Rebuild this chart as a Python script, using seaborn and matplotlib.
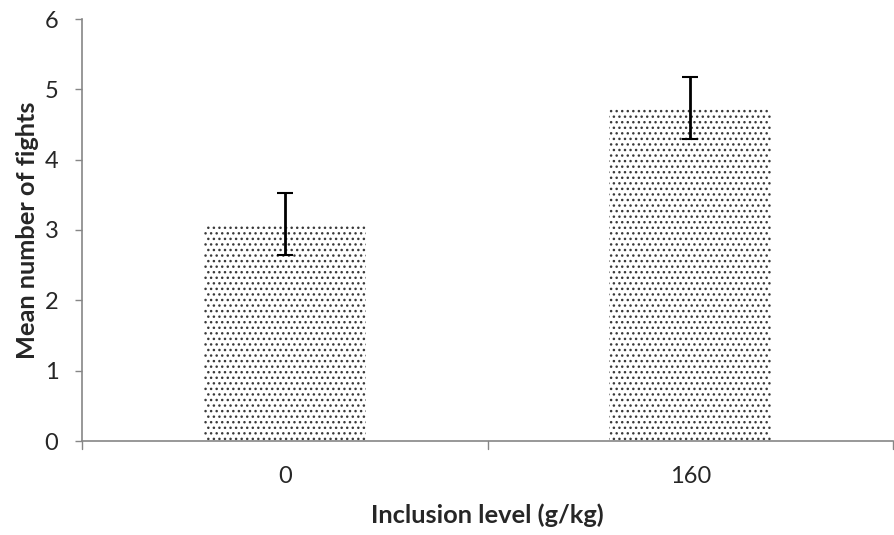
import matplotlib
matplotlib.use("Agg")
import matplotlib.pyplot as plt
import seaborn as sns
import numpy as np

categories = ["0", "160"]
means = [3.09, 4.74]
errors = [0.44, 0.44]

sns.set_style("white")
plt.rcParams['font.family'] = ['Lato', 'DejaVu Sans']
plt.rcParams['hatch.linewidth'] = 1.0

fig = plt.figure(figsize=(8.94, 5.35), dpi=100)
ax = fig.add_axes([82/894, 1-441/535, 1-82/894-1/894, (441-19)/535])

sns.barplot(x=categories, y=means, ax=ax, color="white", width=0.4,
            edgecolor="#3a3a3a", linewidth=0)
for p in ax.patches:
    p.set_hatch('...')
    p.set_edgecolor('#3a3a3a')
    p.set_linewidth(0)

ax.errorbar(x=np.arange(len(categories)), y=means, yerr=errors, fmt='none',
            ecolor='black', elinewidth=2, capsize=6, capthick=1.5)

ax.set_xlim(-0.5, 1.5)
ax.set_ylim(0, 6)
ax.set_yticks(range(0, 7))
ax.tick_params(axis='y', labelsize=17, length=5, width=1, color='#868686',
               direction='out', left=True, pad=12)
ax.set_xticks([0, 1])
ax.set_xticklabels(categories)
ax.tick_params(axis='x', labelsize=17, length=0, pad=18)
for xb in [-0.5, 0.5, 1.5]:
    ax.plot([xb, xb], [0, -0.11], color='#868686', lw=1, clip_on=False)

for s in ['top', 'right']:
    ax.spines[s].set_visible(False)
for s in ['left', 'bottom']:
    ax.spines[s].set_color('#868686')
    ax.spines[s].set_linewidth(1.2)

ax.set_ylabel("Mean number of fights", fontsize=18.3, fontweight='bold', labelpad=4)
ax.set_xlabel("Inclusion level (g/kg)", fontsize=18.3, fontweight='bold', labelpad=12)

fig.savefig("out.png", dpi=100)
